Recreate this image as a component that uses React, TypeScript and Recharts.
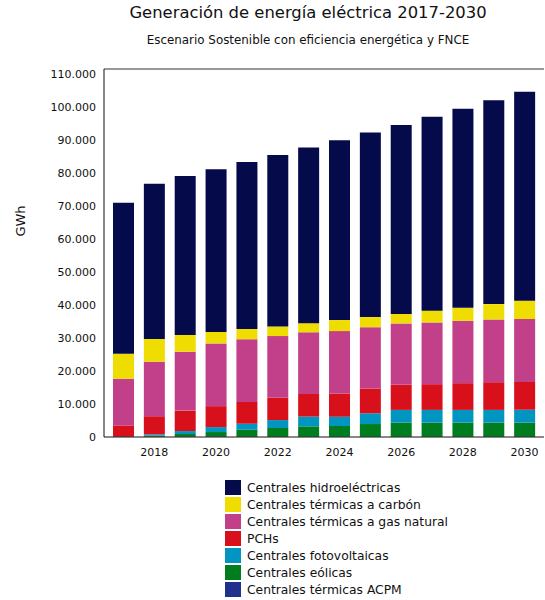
import React from "react"
import {
  BarChart,
  Bar,
  XAxis,
  YAxis,
  ReferenceLine,
} from "recharts"

const FONT = "'DejaVu Sans', sans-serif"

const years = [
  "2017", "2018", "2019", "2020", "2021", "2022", "2023",
  "2024", "2025", "2026", "2027", "2028", "2029", "2030",
]

// GWh por tecnología
const acpm = [100, 100, 100, 100, 100, 80, 80, 80, 80, 60, 60, 60, 60, 60]
const eolicas = [0, 300, 800, 1400, 2100, 2650, 3150, 3250, 3850, 4300, 4300, 4300, 4300, 4300]
const fotovoltaicas = [0, 400, 900, 1500, 1800, 2400, 2950, 2800, 3250, 3850, 3850, 3850, 3850, 3900]
const pchs = [3400, 5500, 6200, 6350, 6600, 6750, 6850, 7050, 7500, 7600, 7800, 8100, 8400, 8400]
const gasNatural = [14150, 16500, 17850, 19000, 19000, 18700, 18700, 18900, 18600, 18600, 18700, 18900, 19000, 19100]
const carbon = [7550, 6900, 5050, 3500, 3100, 2900, 2750, 3350, 3050, 2850, 3550, 3950, 4650, 5550]
const hidro = [45750, 47000, 48200, 49300, 50600, 51950, 53250, 54450, 55900, 57300, 58800, 60300, 61800, 63300]

const yTicks = [0, 10000, 20000, 30000, 40000, 50000, 60000, 70000, 80000, 90000, 100000, 110000]

// orden de apilado: de abajo hacia arriba
const SERIES = [
  { key: "acpm", name: "Centrales térmicas ACPM", color: "#1f318c", values: acpm },
  { key: "eolicas", name: "Centrales eólicas", color: "#007d1f", values: eolicas },
  { key: "fotovoltaicas", name: "Centrales fotovoltaicas", color: "#0096c1", values: fotovoltaicas },
  { key: "pchs", name: "PCHs", color: "#d8101c", values: pchs },
  { key: "gas", name: "Centrales térmicas a gas natural", color: "#c2408a", values: gasNatural },
  { key: "carbon", name: "Centrales térmicas a carbón", color: "#efdc00", values: carbon },
  { key: "hidro", name: "Centrales hidroeléctricas", color: "#050b4a", values: hidro },
]

const chartData = years.map((year, i) => {
  const row: Record<string, string | number> = { year }
  SERIES.forEach((s) => {
    row[s.key] = s.values[i]
  })
  return row
})

const formatThousands = (v: number) =>
  v === 0 ? "0" : v.toLocaleString("de-DE")

export default function App() {
  return (
    <div
      style={{
        position: "absolute",
        left: 0,
        top: 0,
        width: 545,
        height: 600,
        background: "#fff",
        fontFamily: FONT,
        color: "#111",
      }}
    >
      <div
        style={{
          position: "absolute",
          left: 308,
          top: 3,
          transform: "translateX(-50%)",
          whiteSpace: "nowrap",
          fontSize: 16.4,
        }}
      >
        Generación de energía eléctrica 2017-2030
      </div>
      <div
        style={{
          position: "absolute",
          left: 308,
          top: 33,
          transform: "translateX(-50%)",
          whiteSpace: "nowrap",
          fontSize: 11.9,
        }}
      >
        Escenario Sostenible con eficiencia energética y FNCE
      </div>
      <div
        style={{
          position: "absolute",
          left: 20,
          top: 221,
          transform: "translate(-50%, -50%) rotate(-90deg)",
          fontSize: 13,
        }}
      >
        GWh
      </div>

      <BarChart
        width={545}
        height={470}
        data={chartData}
        margin={{ top: 69, right: 1, left: 0, bottom: 0 }}
        barSize={21}
      >
        <XAxis
          dataKey="year"
          height={33}
          interval={0}
          tickLine={false}
          tickMargin={5}
          padding={{ left: 4, right: 4 }}
          axisLine={{ stroke: "#111" }}
          tick={{ fontSize: 11, fill: "#111", fontFamily: FONT }}
          tickFormatter={(v: string) => (Number(v) % 2 === 0 ? v : "")}
        />
        <YAxis
          width={104}
          domain={[0, 111500]}
          ticks={yTicks}
          interval={0}
          tickLine={false}
          axisLine={{ stroke: "#111" }}
          tick={{ fontSize: 11, fill: "#111", fontFamily: FONT }}
          tickFormatter={formatThousands}
        />
        <ReferenceLine y={111500} stroke="#333" />
        {SERIES.map((s) => (
          <Bar
            key={s.key}
            dataKey={s.key}
            name={s.name}
            stackId="gen"
            fill={s.color}
            isAnimationActive={false}
          />
        ))}
      </BarChart>

      <div style={{ position: "absolute", left: 225, top: 479 }}>
        {[...SERIES].reverse().map((s) => (
          <div
            key={s.key}
            style={{ display: "flex", alignItems: "center", height: 17 }}
          >
            <span
              style={{
                display: "inline-block",
                width: 16,
                height: 15,
                background: s.color,
                marginRight: 6,
              }}
            />
            <span style={{ fontSize: 12.3, whiteSpace: "nowrap" }}>{s.name}</span>
          </div>
        ))}
      </div>
    </div>
  )
}
